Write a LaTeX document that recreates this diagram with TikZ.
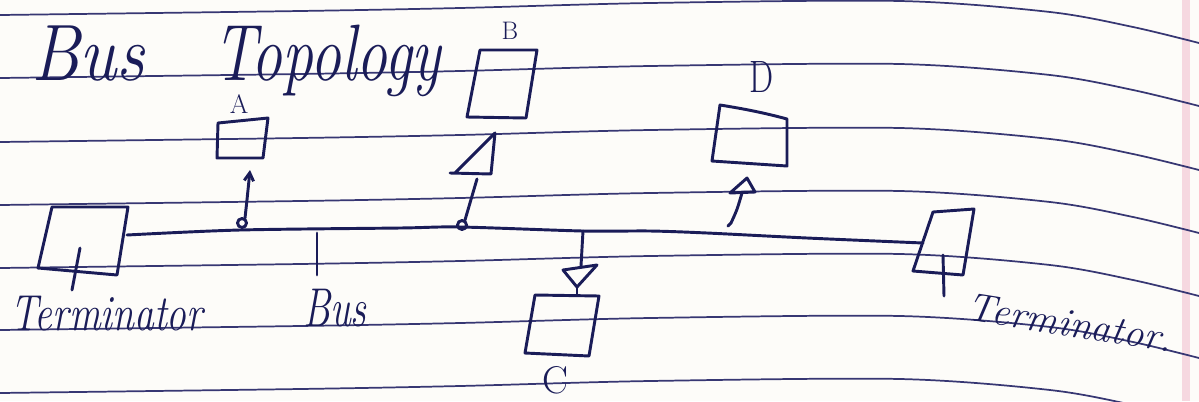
\documentclass[tikz,border=0pt]{standalone}
\usetikzlibrary{arrows.meta}
\definecolor{ink}{RGB}{26,28,88}
\definecolor{rulecol}{RGB}{55,55,115}
\definecolor{paper}{RGB}{253,252,249}
\definecolor{margincol}{RGB}{246,216,224}
\begin{document}
\begin{tikzpicture}[x=0.75pt,y=-0.75pt,
  inkline/.style={draw=ink,line width=2.2pt,line cap=round,line join=round},
  ruled/.style={draw=rulecol,line width=1.3pt},
  hand/.style={text=ink,inner sep=0pt,font=\itshape},
  letter/.style={text=ink,inner sep=0pt},
  barb/.style={-{Straight Barb[length=6pt,width=7pt]}}
  ]
\fill[paper] (0,0) rectangle (1199,401);
\useasboundingbox (0,0) rectangle (1199,401);
% margin line
\draw[margincol,line width=6pt] (1186,0) -- (1186,401);
% ruled paper lines
\foreach \y in {15,78,142,205,268,330,393}
  \draw[ruled] plot[smooth] coordinates {(0,\y) (300,{\y-4}) (460,{\y-7}) (650,{\y-12}) (900,{\y-14}) (1050,{\y-3}) (1133,{\y+12}) (1199,{\y+28})};

% title
\node[hand,anchor=base west,font=\itshape\fontsize{60}{60}\selectfont,xscale=0.88] (ttlbus) at (31,80) {Bus};
\node[hand,anchor=base west,font=\itshape\fontsize{60}{60}\selectfont,xscale=0.77] (ttltopo) at (213,80) {Topology};

% left terminator
\coordinate (lt1) at (52,207); \coordinate (lt2) at (128,207);
\coordinate (lt3) at (117,275); \coordinate (lt4) at (38,268);
\draw[inkline] (lt1) -- (lt2) -- (lt3) -- (lt4) -- cycle;
\coordinate (lttick1) at (80,248); \coordinate (lttick2) at (72,290);
\draw[inkline] (lttick1) -- (lttick2);
\node[hand,anchor=base west,font=\itshape\fontsize{38}{38}\selectfont,xscale=0.78] (ltlabel) at (10,330) {Terminator};

% right terminator
\coordinate (rt1) at (933,212); \coordinate (rt2) at (974,209);
\coordinate (rt3) at (963,275); \coordinate (rt4) at (913,271);
\draw[inkline] (rt1) -- (rt2) -- (rt3) -- (rt4) -- cycle;
\coordinate (rttick1) at (943,255); \coordinate (rttick2) at (944,296);
\draw[inkline] (rttick1) -- (rttick2);
\node[hand,anchor=base,font=\itshape\fontsize{30}{30}\selectfont,rotate=-9] (rtlabel) at (1068,336) {Terminator.};

% bus
\coordinate (busL) at (127,235);
\coordinate (busR) at (923,243);
\draw[inkline] plot[smooth] coordinates {(busL) (240,230) (400,228) (460,227) (583,231) (650,231) (707,233) (807,238) (busR)};
\coordinate (bustick1) at (317,233); \coordinate (bustick2) at (317,275);
\draw[inkline] (bustick1) -- (bustick2);
\node[hand,anchor=base west,font=\itshape\fontsize{41}{41}\selectfont,xscale=0.72] (buslabel) at (303,326) {Bus};

% A
\coordinate (a1) at (218,123); \coordinate (a2) at (268,118);
\coordinate (a3) at (263,158); \coordinate (a4) at (217,158);
\draw[inkline] (a1) -- (a2) -- (a3) -- (a4) -- cycle;
\node[letter,font=\fontsize{20}{20}\selectfont] (alabel) at (239,104) {A};
\coordinate (atap) at (242,223);
\draw[inkline] (atap) circle (4.5);
\coordinate (aend) at (250,170);
\draw[inkline,barb] (245,218) .. controls (247,200) .. (aend);

% B
\coordinate (b1) at (480,50); \coordinate (b2) at (537,50);
\coordinate (b3) at (526,118); \coordinate (b4) at (467,117);
\draw[inkline] (b1) -- (b2) -- (b3) -- (b4) -- cycle;
\node[letter,font=\fontsize{19}{19}\selectfont] (blabel) at (510,31) {B};
\coordinate (bt1) at (450,173); \coordinate (bt2) at (491,174); \coordinate (bt3) at (495,133);
\draw[inkline] (bt1) -- (bt2) -- (bt3) -- (455,173);
\coordinate (btap) at (462,225);
\draw[inkline] (btap) circle (4.5);
\coordinate (bstem) at (477,179);
\draw[inkline] (465,220) -- (bstem);

% C
\coordinate (ctap) at (583,231);
\coordinate (ctop) at (581,266);
\draw[inkline] (ctap) -- (ctop);
\coordinate (ct1) at (563,270); \coordinate (ct2) at (597,265); \coordinate (ct3) at (577,287);
\draw[inkline] (ct1) -- (ct2) -- (ct3) -- cycle;
\coordinate (c1) at (535,295); \coordinate (c2) at (599,296);
\coordinate (c3) at (589,356); \coordinate (c4) at (525,353);
\draw[inkline] (ct3) -- (577,295);
\draw[inkline] (c1) -- (c2) -- (c3) -- (c4) -- cycle;
\node[letter,font=\fontsize{29}{29}\selectfont] (clabel) at (555,380) {C};

% D
\coordinate (d1) at (720,105); \coordinate (d2) at (787,119);
\coordinate (d3) at (787,166); \coordinate (d4) at (712,161);
\draw[inkline] (d1) .. controls (745,109) and (765,113) .. (d2) -- (d3) -- (d4) -- cycle;
\node[letter,font=\fontsize{34}{34}\selectfont,xscale=0.75] (dlabel) at (762,77) {D};
\coordinate (dtip) at (747,178);
\draw[inkline] (dtip) -- (755,192) -- (730,193) -- cycle;
\coordinate (dhook) at (728,226);
\draw[inkline] (dhook) -- (731,223) .. controls (737,210) .. (742,193);
\end{tikzpicture}
\end{document}
